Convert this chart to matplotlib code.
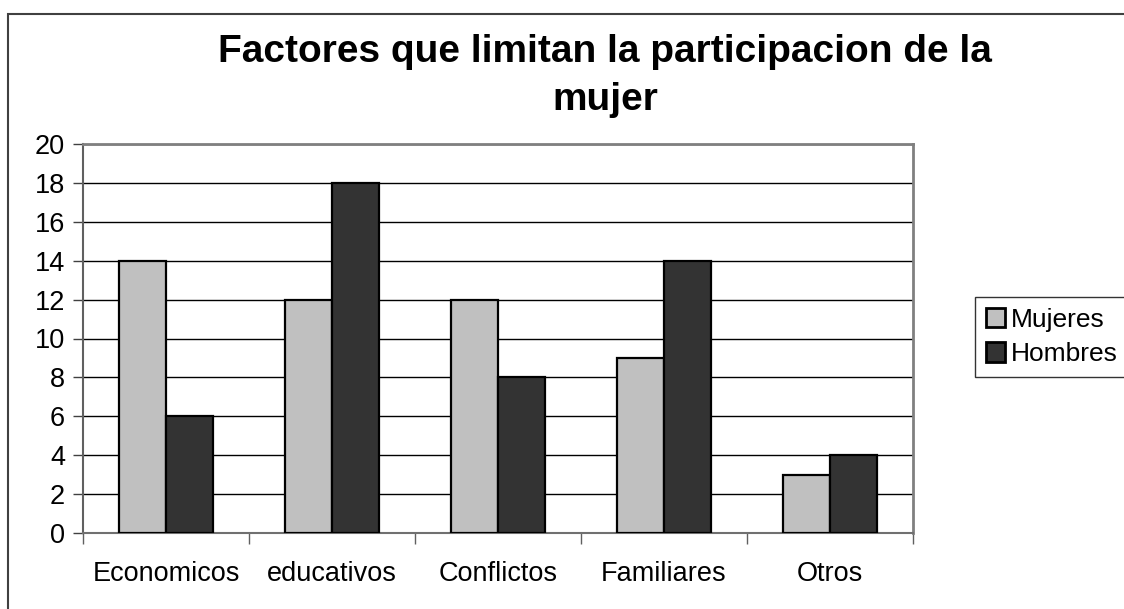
import numpy as np
import matplotlib
matplotlib.use("Agg")
import matplotlib.pyplot as plt
from matplotlib.patches import Rectangle

plt.rcParams['font.family'] = ['Liberation Sans', 'DejaVu Sans']

categorias = ['Economicos', 'educativos', 'Conflictos', 'Familiares', 'Otros']
mujeres = [14, 12, 12, 9, 3]
hombres = [6, 18, 8, 14, 4]
yticks = list(range(0, 21, 2))

fig = plt.figure(figsize=(11.24, 6.09), dpi=100)
ax = fig.add_axes([83/1124, 76/609, 830/1124, 389/609])

# marco exterior del grafico
fig.patches.append(Rectangle((8/1124, -0.1), 1.2, 1 - 14/609 + 0.1, transform=fig.transFigure,
                             fill=False, edgecolor='#404040', linewidth=1.5))

x = np.arange(len(categorias))
w = 0.286
ax.bar(x - w/2, mujeres, w, color='#C0C0C0', edgecolor='black', linewidth=1.6, label='Mujeres', zorder=3)
ax.bar(x + w/2, hombres, w, color='#333333', edgecolor='black', linewidth=1.6, label='Hombres', zorder=3)

ax.set_xlim(-0.5, len(categorias) - 0.5)
ax.set_ylim(0, 20)
ax.set_yticks(yticks)
ax.yaxis.grid(True, color='black', linewidth=1.0, zorder=0)
ax.tick_params(axis='y', labelsize=19.5, length=7, width=1, color='#404040', pad=6)

ax.set_xticks(np.arange(-0.5, len(categorias)), labels=[''] * (len(categorias) + 1))
ax.set_xticks(x, labels=categorias, minor=True)
ax.tick_params(axis='x', which='major', length=8, width=1, color='#606060')
ax.tick_params(axis='x', which='minor', length=0, labelsize=19.5, pad=20)

for s in ['top', 'right']:
    ax.spines[s].set_color('#808080')
    ax.spines[s].set_linewidth(2)
ax.spines['left'].set_color('#606060')
ax.spines['left'].set_linewidth(1.5)
ax.spines['bottom'].set_color('#707070')
ax.spines['bottom'].set_linewidth(1.5)

fig.text(605/1124, 1 - 76/609, 'Factores que limitan la participacion de la\nmujer',
         ha='center', va='center', fontsize=28, fontweight='bold', linespacing=1.45)

leg = fig.legend(loc='center left', bbox_to_anchor=(975/1124, 1 - 337/609), fontsize=19,
                 frameon=True, fancybox=False, edgecolor='black', handlelength=0.75,
                 handleheight=0.75, handletextpad=0.2, borderpad=0.4, labelspacing=0.4,
                 borderaxespad=0)
leg.get_frame().set_linewidth(1.0)
for h in leg.legend_handles:
    h.set_linewidth(2)

fig.savefig('out.png', dpi=100)
